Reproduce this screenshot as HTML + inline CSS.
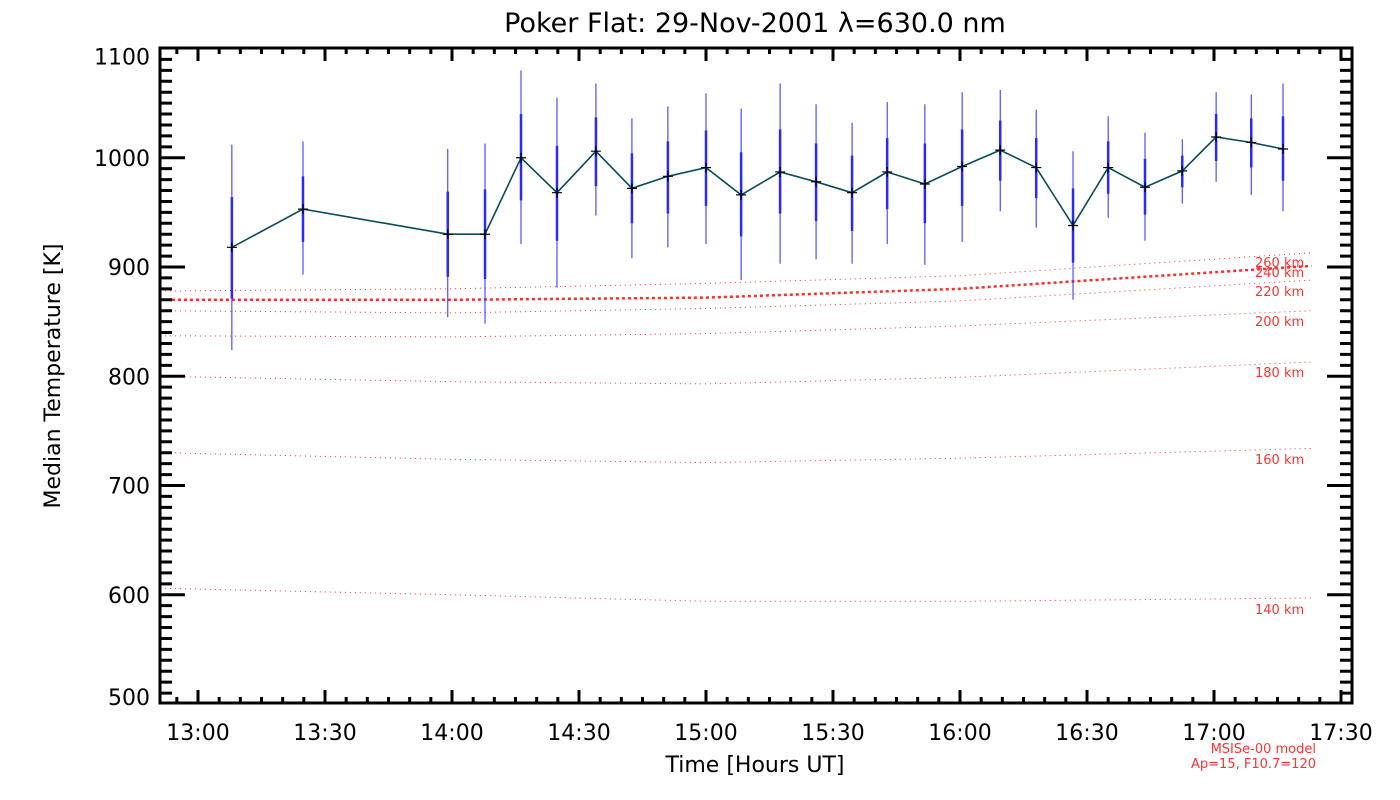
<!DOCTYPE html>
<html><head><meta charset="utf-8"><style>
html,body{margin:0;padding:0;background:#fff;}
svg{display:block;font-family:"DejaVu Sans","Liberation Sans",sans-serif;}
</style></head><body>
<svg id="chart" width="1400" height="800" viewBox="0 0 1400 800" xmlns="http://www.w3.org/2000/svg">
<text x="755" y="32" font-size="27" text-anchor="middle" fill="#000">Poker Flat: 29-Nov-2001 λ=630.0 nm</text>
<text transform="translate(60,376) rotate(-90)" font-size="22" text-anchor="middle" fill="#000">Median Temperature [K]</text>
<text x="755" y="772" font-size="22" text-anchor="middle" fill="#000">Time [Hours UT]</text>
<text x="1316" y="753" font-size="13" text-anchor="end" fill="#ff3333">MSISe-00 model</text>
<text x="1316" y="768" font-size="13" text-anchor="end" fill="#ff3333">Ap=15, F10.7=120</text>
<g id="models"></g><g id="errs"></g><g id="series"></g><g id="axes"></g>
</svg>
<script>
// data (minutes after 13:00 UT)
const obsTimes=[8,24.8,59,67.8,76.3,84.8,94,102.5,111,120,128.3,137.5,146,154.5,162.8,171.7,180.5,189.5,198,206.7,215,223.7,232.5,240.5,248.8,256.3];
const obsTemps=[918,953,930,930,1000,968,1006,972,983,991,966,987,978,968,987,976,992,1007,991,938,991,973,988,1019,1014,1008];
const outerHi=[1012,1015,1008,1013,1080,1055,1068,1036,1047,1059,1045,1068,1049,1032,1051,1049,1060,1062,1044,1006,1038,1023,1017,1060,1058,1068];
const outerLo=[824,893,854,848,921,881,947,908,918,921,888,903,907,903,921,902,923,951,936,870,945,924,958,978,966,951];
const innerHi=[964,983,969,971,1040,1011,1037,1004,1015,1025,1005,1026,1013,1002,1018,1013,1026,1034,1018,972,1015,999,1002,1040,1036,1038];
const innerLo=[871,923,891,889,961,924,974,940,949,956,928,949,942,933,953,940,956,979,963,904,967,948,973,997,991,979];
const modelTimes=[-9,60,120,180,263];
const modelNames=["260 km","240 km","220 km","200 km","180 km","160 km","140 km"];
const model260=[878,880,885,892,913];
const model240=[870,870,872,880,901];
const model220=[860,858,862,869,888];
const model200=[837,836,839,846,860];
const model180=[800,795,793,799,813];
const model160=[730,724,721,725,734];
const model140=[606,600,594,594,597];
const modelLabelY=[263,273,292,322,373,460,610];
const xTickLabels=["13:00","13:30","14:00","14:30","15:00","15:30","16:00","16:30","17:00","17:30"];
const yTickLabels=["500","600","700","800","900","1000","1100"];

const NS="http://www.w3.org/2000/svg";
const X=m=>198+m*127/30;
const Y=v=>704-(v-500)*1.0925;
function mk(tag,attrs,parent){const e=document.createElementNS(NS,tag);for(const k in attrs)e.setAttribute(k,attrs[k]);parent.appendChild(e);return e;}
const gm=document.getElementById('models'),ge=document.getElementById('errs'),gs=document.getElementById('series'),ga=document.getElementById('axes');
const models=[model260,model240,model220,model200,model180,model160,model140];
models.forEach((arr,i)=>{
  const pts=arr.map((v,j)=>X(modelTimes[j]).toFixed(1)+','+Y(v).toFixed(1)).join(' ');
  const pl=mk('polyline',{points:pts,fill:'none',stroke:'#ff2a2a','stroke-width':i==1?2.5:1,'stroke-dasharray':i==1?'3 3':'1 4'},gm);
  
  
  const t=mk('text',{x:1255,y:modelLabelY[i]+4,'font-size':13,fill:'#ff3333'},gm);
  t.textContent=modelNames[i];
  
  
});
obsTimes.forEach((m,i)=>{
  const x=X(m);
  const o=mk('line',{x1:x,x2:x,y1:Y(outerHi[i]),y2:Y(outerLo[i]),stroke:'#2a2aff','stroke-width':1},ge);
  
  
  const n=mk('line',{x1:x,x2:x,y1:Y(innerHi[i]),y2:Y(innerLo[i]),stroke:'#2a2aff','stroke-width':2.5},ge);
  
  
});
const line=mk('polyline',{points:obsTimes.map((m,i)=>X(m).toFixed(1)+','+Y(obsTemps[i]).toFixed(1)).join(' '),fill:'none',stroke:'#0a4a5a','stroke-width':1.6},gs);


obsTimes.forEach((m,i)=>{
  const x=X(m),y=Y(obsTemps[i]);
  const p=mk('path',{d:`M${x-5},${y}H${x+5}M${x},${y-5}V${y+5}`,stroke:'#000','stroke-width':1.2},gs);
  
  
});
// frame
const L=160,R=1352,T=48,B=703;
const fr=mk('rect',{x:L,y:T,width:R-L,height:B-T,fill:'none',stroke:'#000','stroke-width':3},ga);


let d='';
for(let m=-5;m<=270;m+=5){const x=X(m);if(x<L+2||x>R-2)continue;const len=(m%30===0)?13:6;d+=`M${x},${B}V${B-len}M${x},${T}V${T+len}`;}
for(let v=510;v<1100;v+=10){const y=Y(v);const len=(v%100===0)?25:12;d+=`M${L},${y}H${L+len}M${R},${y}H${R-len}`;}
const tk=mk('path',{d:d,stroke:'#000','stroke-width':3},ga);


xTickLabels.forEach((s,i)=>{
  const t=mk('text',{x:X(i*30),y:740,'font-size':22,'text-anchor':'middle',fill:'#000'},ga);
  t.textContent=s;
  
  
});
yTickLabels.forEach((s)=>{
  let off=8;
  if(s==="1100")off=16;
  if(s==="500")off=1;
  const t=mk('text',{x:150,y:Y(+s)+off,'font-size':22,'text-anchor':'end',fill:'#000'},ga);
  t.textContent=s;
  
  
});
</script>
</body></html>
